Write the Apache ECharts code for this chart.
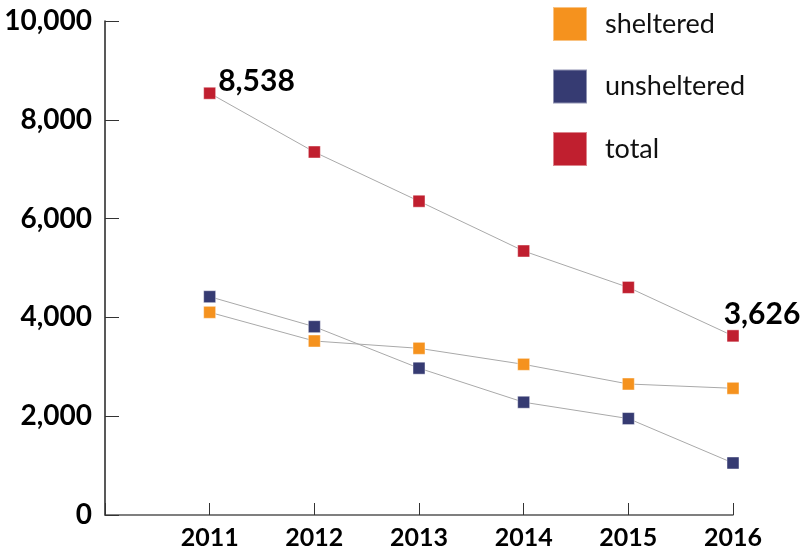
<!DOCTYPE html>
<html>
<head>
<meta charset="utf-8">
<script src="https://cdn.jsdelivr.net/npm/echarts@6/dist/echarts.min.js"></script>
<style>
  html, body { margin: 0; padding: 0; background: #fff; }
  #Chart { width: 802px; height: 548px; }
</style>
</head>
<body>
<div id="Chart"></div>
<script>
const years = [2011, 2012, 2013, 2014, 2015, 2016]
const sheltered = [4103, 3522, 3374, 3050, 2652, 2565]
const unsheltered = [4419, 3812, 2972, 2283, 1952, 1053]
const total = [8538, 7348, 6352, 5344, 4607, 3626]
const yTicks = [0, 2000, 4000, 6000, 8000, 10000]

const chart = echarts.init(document.getElementById("Chart"), null, { renderer: "canvas" })

const fmt = v => v.toLocaleString("en-US")
const pairs = arr => arr.map((v, i) => [years[i], v])

const mkSeries = (name, color, arr) => ({
  name: name,
  type: "line",
  symbol: "rect",
  symbolSize: 12,
  itemStyle: { color: color, borderColor: "rgba(255,255,255,0.45)", borderWidth: 1 },
  lineStyle: { color: "#a9a9a9", width: 1 },
  emphasis: { disabled: true },
  data: pairs(arr)
})

const totalSeries = mkSeries("total", "#c01f2f", total)
// only first and last points get a value label
totalSeries.data = total.map((v, i) => {
  const item = { value: [years[i], v] }
  if (i === 0) {
    item.label = { show: true, position: "right", offset: [-3, -12], formatter: p => fmt(p.value[1]) }
  } else if (i === total.length - 1) {
    item.label = { show: true, position: "top", offset: [29, 5], formatter: p => fmt(p.value[1]) }
  }
  return item
})
totalSeries.label = {
  fontFamily: "Lato",
  fontWeight: "bold",
  fontSize: 30,
  color: "#000"
}

let option = {
  animation: false,
  textStyle: { fontFamily: "Lato" },
  grid: { left: 105, right: 69, top: 21, bottom: 33, outerBoundsMode: "none" },
  legend: {
    orient: "vertical",
    left: 552,
    top: 6,
    padding: 0,
    itemWidth: 34,
    itemHeight: 34,
    itemGap: 26.5,
    icon: "rect",
    textStyle: { fontFamily: "Lato", fontSize: 27, color: "#111", padding: [0, 0, 0, 13] },
    data: ["sheltered", "unsheltered", "total"]
  },
  xAxis: {
    type: "value",
    min: 2010,
    max: 2016,
    interval: 1,
    splitLine: { show: false },
    axisLine: { show: true, lineStyle: { color: "#555", width: 1.5 } },
    axisTick: { show: true, inside: true, length: 12, lineStyle: { color: "#333", width: 1 } },
    axisLabel: {
      margin: 10,
      fontFamily: "Lato",
      fontWeight: "bold",
      fontSize: 25,
      color: "#000",
      formatter: v => (years.includes(v) ? String(v) : "")
    }
  },
  yAxis: {
    type: "value",
    min: yTicks[0],
    max: yTicks[yTicks.length - 1],
    interval: 2000,
    splitLine: { show: false },
    axisLine: { show: true, lineStyle: { color: "#222", width: 1.5 } },
    axisTick: { show: true, inside: true, length: 14, lineStyle: { color: "#333", width: 1 } },
    axisLabel: {
      margin: 13,
      fontFamily: "Lato",
      fontWeight: "bold",
      fontSize: 28,
      color: "#000",
      formatter: fmt
    }
  },
  series: [
    mkSeries("sheltered", "#f5921e", sheltered),
    mkSeries("unsheltered", "#363b72", unsheltered),
    totalSeries
  ]
}
chart.setOption(option)
</script>
</body>
</html>
